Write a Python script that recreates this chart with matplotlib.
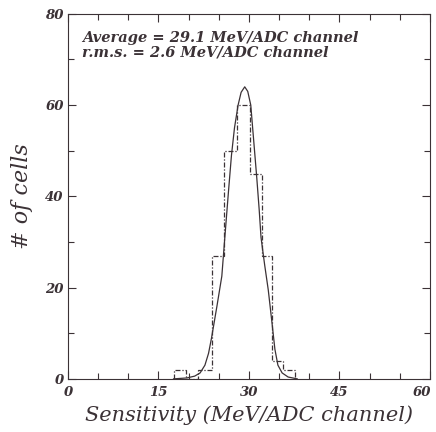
import matplotlib
matplotlib.use("Agg")
import matplotlib.pyplot as plt
from matplotlib.ticker import MultipleLocator
from matplotlib.transforms import ScaledTranslation

# histogram
bin_edges = [17.6, 19.6, 21.6, 23.8, 25.9, 28.1, 30.2, 32.1, 33.9, 35.7, 37.6]
n_cells = [2, 0, 2, 27, 50, 60, 45, 27, 4, 2]

# gaussian fit curve
fit_x = [17.5, 19.7, 21.0, 21.9, 22.7, 23.3, 23.8, 24.7, 25.5, 26.0, 26.6, 27.1,
         27.6, 28.2, 28.7, 29.3, 29.8, 30.3, 30.8, 31.3, 31.7, 32.0, 32.6, 33.2,
         33.8, 34.3, 34.8, 35.5, 36.5, 38.0]
fit_y = [0.0, 0.2, 0.6, 1.3, 3.0, 5.6, 9.0, 16.0, 22.5, 31.0, 41.0, 49.0,
         55.0, 60.0, 62.8, 64.0, 63.0, 60.0, 52.0, 44.0, 37.0, 31.0, 25.0, 19.5,
         12.5, 6.5, 3.0, 1.3, 0.4, 0.0]

x_ticks = [0, 15, 30, 45, 60]
y_ticks = [0, 20, 40, 60, 80]
info = ["Average = 29.1 MeV/ADC channel", "r.m.s. = 2.6 MeV/ADC channel"]

ink = "#3b3236"
serif = "DejaVu Serif"

fig = plt.figure(figsize=(4.36, 4.32), dpi=100)
ax = fig.add_axes([0.156, 0.123, 0.83, 0.845])

ax.stairs(n_cells, bin_edges, color=ink, lw=0.9, ls=(0, (4, 1.5, 1, 1.5)))
ax.plot(fit_x, fit_y, color=ink, lw=0.9)

ax.set_xlim(0, 60)
ax.set_ylim(0, 80)
ax.set_xticks(x_ticks)
ax.set_yticks(y_ticks)
ax.xaxis.set_minor_locator(MultipleLocator(5))
ax.yaxis.set_minor_locator(MultipleLocator(10))
ax.tick_params(which="both", direction="in", top=True, right=True,
               color=ink, width=0.8)
ax.tick_params(which="major", length=6, pad=3)
ax.tick_params(axis="x", which="major", pad=5)
ax.tick_params(which="minor", length=4)
for lab in ax.get_xticklabels() + ax.get_yticklabels():
    lab.set_fontfamily(serif)
    lab.set_fontstyle("italic")
    lab.set_fontweight("bold")
    lab.set_fontsize(9.5)
    lab.set_color(ink)
# keep the last x label inside the picture
last = ax.get_xticklabels()[-1]
last.set_transform(last.get_transform() + ScaledTranslation(-6 / 72, 0, fig.dpi_scale_trans))
for s in ax.spines.values():
    s.set_color(ink)
    s.set_linewidth(0.8)

for i, line in enumerate(info):
    ax.text(0.04, 0.924 - 0.042 * i, line, transform=ax.transAxes,
            fontsize=10.5, family=serif, style="italic", weight="bold",
            color=ink)

ax.set_xlabel("Sensitivity (MeV/ADC channel)", fontsize=15,
              family=serif, style="italic", color=ink, labelpad=5)
ax.set_ylabel("# of cells", fontsize=16, family=serif,
              style="italic", color=ink, labelpad=9)

fig.savefig("out.png", dpi=100)
